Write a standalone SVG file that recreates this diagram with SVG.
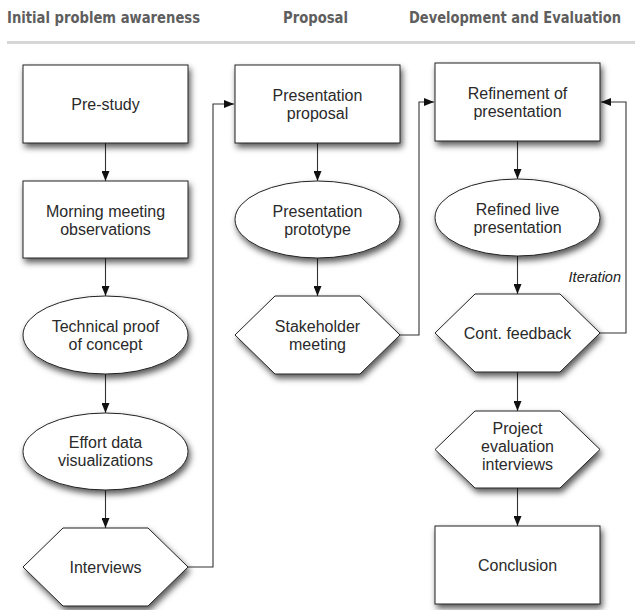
<svg xmlns="http://www.w3.org/2000/svg" width="635" height="610" viewBox="0 0 635 610">
<style>
.hdr{font-family:"Liberation Sans Narrow","DejaVu Sans Condensed","Liberation Sans",sans-serif;font-weight:bold;font-size:15.5px;fill:#5e5e5e}
.node{fill:#fff;stroke:#222;stroke-width:1;filter:url(#sh)}
.lbl{font-family:"Liberation Sans",Arial,sans-serif;font-size:16px;fill:#2a2a2a;text-anchor:middle}
.conn{fill:none;stroke:#333;stroke-width:1.1;marker-end:url(#ah)}
.it{font-family:"Liberation Sans",Arial,sans-serif;font-style:italic;font-size:14.5px;fill:#222;text-anchor:end}
</style>
<defs>
<filter id="sh" x="-20%" y="-20%" width="150%" height="160%">
<feDropShadow dx="2" dy="4" stdDeviation="3" flood-color="#000" flood-opacity="0.65"/>
</filter>
<marker id="ah" markerUnits="userSpaceOnUse" markerWidth="10" markerHeight="8" refX="10" refY="4" orient="auto">
<path d="M0,0 L10,4 L0,8 z" fill="#111"/>
</marker>
</defs>
<rect width="635" height="610" fill="#fff"/>
<g id="headers">
<text class="hdr" x="7" y="23" textLength="193" lengthAdjust="spacingAndGlyphs">Initial problem awareness</text>
<text class="hdr" x="283" y="23" textLength="65" lengthAdjust="spacingAndGlyphs">Proposal</text>
<text class="hdr" x="409" y="23" textLength="212" lengthAdjust="spacingAndGlyphs">Development and Evaluation</text>
<rect x="7" y="41" width="628" height="3" fill="#d6d6d6"/>
</g>
<g id="connectors">
<path class="conn" d="M105.5,143 V181"/>
<path class="conn" d="M105.5,258 V296"/>
<path class="conn" d="M105.5,374 V413"/>
<path class="conn" d="M105.5,490 V528"/>
<path class="conn" d="M188,567 H213 V104 H234"/>
<path class="conn" d="M317.5,143 V181"/>
<path class="conn" d="M317.5,258 V296"/>
<path class="conn" d="M400,335 H419 V102 H434"/>
<path class="conn" d="M517.5,141 V179"/>
<path class="conn" d="M517.5,256 V294"/>
<path class="conn" d="M517.5,372 V411"/>
<path class="conn" d="M517.5,488 V526"/>
<path class="conn" d="M600,333 H626 V102 H601"/>
<text class="it" x="621" y="282">Iteration</text>
</g>
<g id="prestudy">
<rect class="node" x="23" y="65" width="165" height="78"/>
<text class="lbl" x="105.5" y="110">Pre-study</text>
</g>
<g id="morning">
<rect class="node" x="23" y="181" width="165" height="77"/>
<text class="lbl" x="105.5" y="217">Morning meeting</text>
<text class="lbl" x="105.5" y="235">observations</text>
</g>
<g id="technical">
<ellipse class="node" cx="105.5" cy="335" rx="82.5" ry="39"/>
<text class="lbl" x="105.5" y="332">Technical proof</text>
<text class="lbl" x="105.5" y="350">of concept</text>
</g>
<g id="effort">
<ellipse class="node" cx="105.5" cy="451.5" rx="82.5" ry="38.5"/>
<text class="lbl" x="105.5" y="448">Effort data</text>
<text class="lbl" x="105.5" y="466">visualizations</text>
</g>
<g id="interviews">
<polygon class="node" points="23,567 63,528 148,528 188,567 148,606 63,606"/>
<text class="lbl" x="105.5" y="573">Interviews</text>
</g>
<g id="proposal">
<rect class="node" x="235" y="65" width="165" height="78"/>
<text class="lbl" x="317.5" y="101">Presentation</text>
<text class="lbl" x="317.5" y="119">proposal</text>
</g>
<g id="prototype">
<ellipse class="node" cx="317.5" cy="219.5" rx="82.5" ry="38.5"/>
<text class="lbl" x="317.5" y="217">Presentation</text>
<text class="lbl" x="317.5" y="235">prototype</text>
</g>
<g id="stakeholder">
<polygon class="node" points="235,335 275,296 360,296 400,335 360,374 275,374"/>
<text class="lbl" x="317.5" y="332">Stakeholder</text>
<text class="lbl" x="317.5" y="350">meeting</text>
</g>
<g id="refinement">
<rect class="node" x="435" y="63" width="165" height="78"/>
<text class="lbl" x="517.5" y="99">Refinement of</text>
<text class="lbl" x="517.5" y="117">presentation</text>
</g>
<g id="refined">
<ellipse class="node" cx="517.5" cy="217.5" rx="82.5" ry="38.5"/>
<text class="lbl" x="517.5" y="215">Refined live</text>
<text class="lbl" x="517.5" y="233">presentation</text>
</g>
<g id="feedback">
<polygon class="node" points="435,333 475,294 560,294 600,333 560,372 475,372"/>
<text class="lbl" x="517.5" y="339">Cont. feedback</text>
</g>
<g id="evaluation">
<polygon class="node" points="435,449.5 475,411 560,411 600,449.5 560,488 475,488"/>
<text class="lbl" x="517.5" y="434">Project</text>
<text class="lbl" x="517.5" y="452">evaluation</text>
<text class="lbl" x="517.5" y="470">interviews</text>
</g>
<g id="conclusion">
<rect class="node" x="435" y="526" width="165" height="78"/>
<text class="lbl" x="517.5" y="571">Conclusion</text>
</g>
</svg>
